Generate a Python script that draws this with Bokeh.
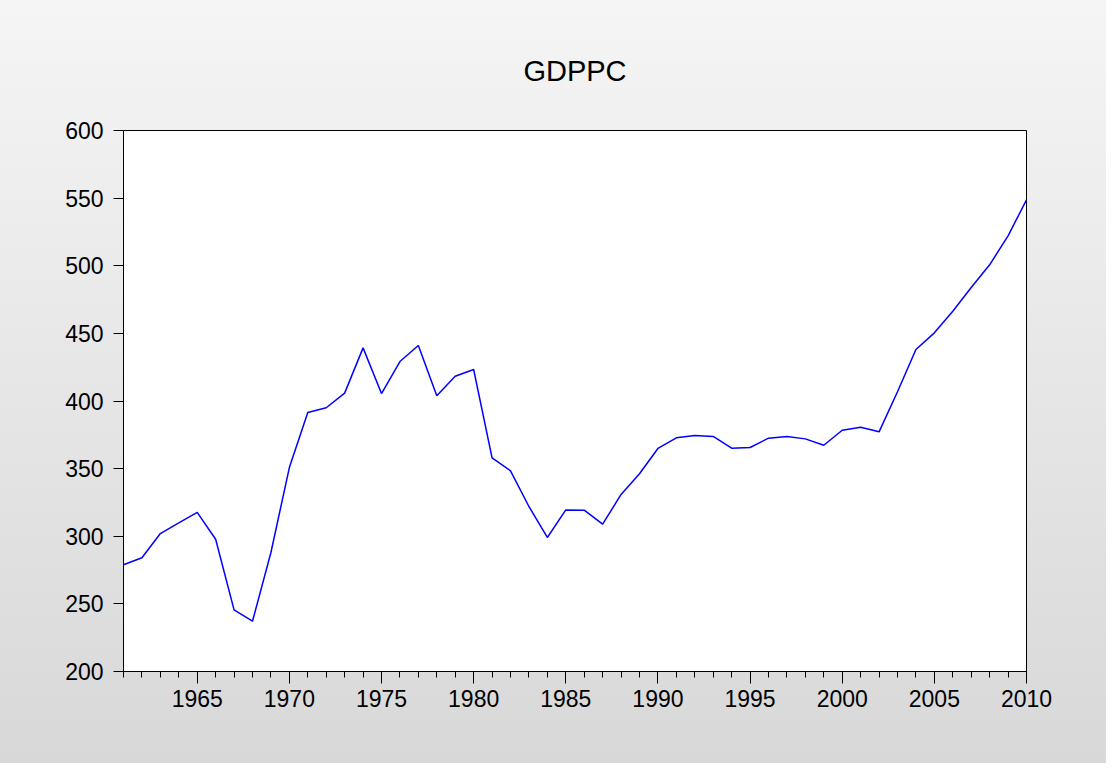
from bokeh.plotting import figure
from bokeh.models import Range1d, FixedTicker
from bokeh.embed import file_html
from bokeh.resources import INLINE

years = list(range(1961, 2011))
gdppc = [278.9, 284.1, 302.0, 309.9, 317.6, 297.8, 245.6, 237.2, 288.0, 350.8,
         391.5, 395.0, 405.8, 439.3, 405.5, 429.2, 441.0, 403.8, 418.3, 423.3,
         358.0, 348.4, 322.0, 299.1, 319.5, 319.3, 308.9, 330.9, 346.2, 364.9,
         372.8, 374.5, 373.8, 365.1, 365.6, 372.5, 373.8, 372.0, 367.3, 378.4,
         380.6, 377.2, 406.8, 438.1, 450.4, 466.4, 483.9, 500.7, 522.1, 548.8]
x_major = [1965, 1970, 1975, 1980, 1985, 1990, 1995, 2000, 2005, 2010]
y_major = [200, 250, 300, 350, 400, 450, 500, 550, 600]
title_text = "GDPPC"

FONT = "Liberation Sans"

p = figure(width=1106, height=763, output_backend="svg", toolbar_location=None,
           x_range=Range1d(1961, 2010), y_range=Range1d(200, 600),
           min_border_left=123, min_border_right=80, min_border_top=130,
           min_border_bottom=92, title=title_text)

p.styles = {"background": "linear-gradient(to bottom, #f5f5f5 0%, #d8d8d8 100%)"}
p.border_fill_alpha = 0
p.background_fill_color = "white"
p.outline_line_color = "black"
p.outline_line_width = 1

p.title.align = "center"
p.title.text_font = FONT
p.title.text_font_size = "29px"
p.title.text_font_style = "normal"
p.title.text_color = "black"
p.title.standoff = 87

p.xgrid.visible = False
p.ygrid.visible = False

xa = p.xaxis[0]
xa.ticker = FixedTicker(ticks=x_major, minor_ticks=years)
xa.major_tick_in = 0
xa.major_tick_out = 12
xa.minor_tick_in = 0
xa.minor_tick_out = 6
xa.major_label_standoff = 6
xa.major_label_text_font = FONT
xa.major_label_text_font_size = "23px"
xa.major_label_text_color = "black"
xa.axis_line_color = "black"
xa.major_tick_line_color = "black"
xa.minor_tick_line_color = "black"

ya = p.yaxis[0]
ya.ticker = FixedTicker(ticks=y_major, minor_ticks=[])
ya.major_tick_in = 0
ya.major_tick_out = 10
ya.minor_tick_line_color = None
ya.major_label_standoff = 10
ya.major_label_text_font = FONT
ya.major_label_text_font_size = "23px"
ya.major_label_text_color = "black"
ya.axis_line_color = "black"
ya.major_tick_line_color = "black"

p.line(years, gdppc, line_color="#0000ff", line_width=1.5)

open("out.html", "w").write(file_html(p, INLINE))
